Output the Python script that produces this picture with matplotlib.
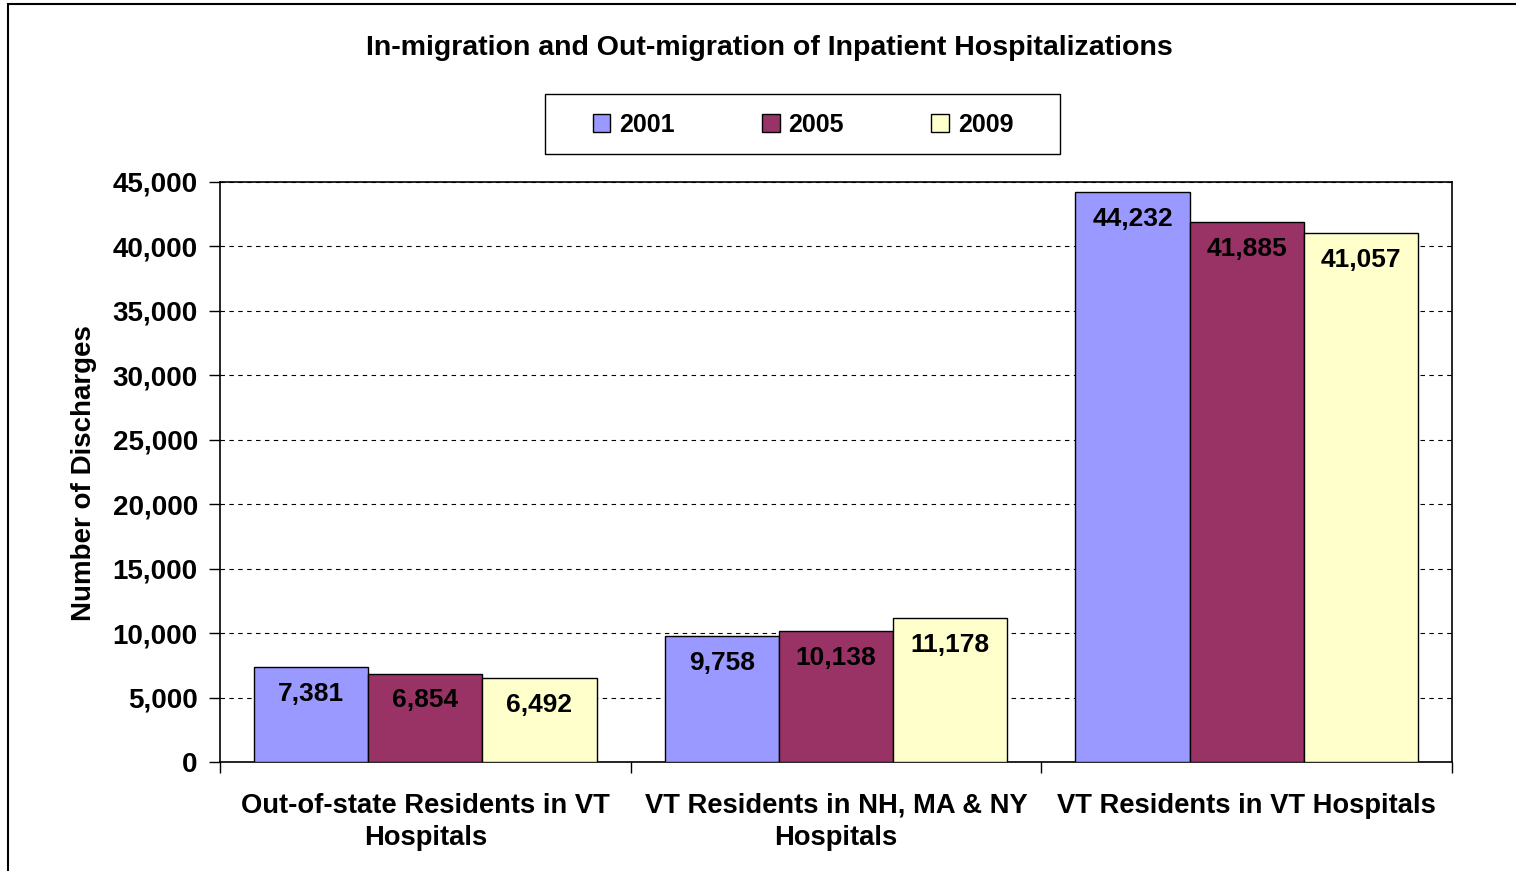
import numpy as np
import matplotlib.pyplot as plt
from matplotlib.patches import Rectangle

# -----------------------------
# Data
# -----------------------------
categories = ["Out-of-state Residents in VT\nHospitals",
              "VT Residents in NH, MA & NY\nHospitals",
              "VT Residents in VT Hospitals"]
years = ["2001", "2005", "2009"]
vals_2001 = [7381, 9758, 44232]
vals_2005 = [6854, 10138, 41885]
vals_2009 = [6492, 11178, 41057]
colors = ["#9999FF", "#993366", "#FFFFCC"]

plt.rcParams["font.family"] = ["Liberation Sans", "DejaVu Sans"]
plt.rcParams["font.weight"] = "bold"

W, H = 1516, 871
fig = plt.figure(figsize=(W / 100, H / 100), dpi=100)
ax = fig.add_axes([220 / W, 1 - 762 / H, 1232 / W, 580 / H])

# outer chart border
fig.patches.append(Rectangle((8 / W, -0.1), 1.2, 1 - 4 / H + 0.1,
                             transform=fig.transFigure, fill=False,
                             edgecolor="black", linewidth=1.5))

x = np.arange(len(categories))
w = 0.278
series = [vals_2001, vals_2005, vals_2009]
for i, (vals, col, yr) in enumerate(zip(series, colors, years)):
    bars = ax.bar(x + (i - 1) * w, vals, w, color=col, edgecolor="black",
                  linewidth=1.0, label=yr, zorder=3)
    for b, v in zip(bars, vals):
        ax.text(b.get_x() + b.get_width() / 2, v - 1150, f"{v:,}",
                ha="center", va="top", fontsize=19, fontweight="bold", zorder=4)

ax.set_xlim(-0.5, 2.5)
ax.set_ylim(0, 45000)
ax.set_yticks(np.arange(0, 45001, 5000))
ax.set_yticklabels([f"{v:,}" for v in range(0, 45001, 5000)], fontsize=20)
ax.yaxis.grid(True, linestyle=(0, (4, 4)), color="black", linewidth=0.8, zorder=0)
ax.tick_params(axis="y", direction="out", length=8, width=1, pad=8)

ax.set_xticks(x)
ax.set_xticklabels(categories, fontsize=19.7, linespacing=1.3)
ax.tick_params(axis="x", length=0, pad=22)
ax.set_xticks([-0.5, 0.5, 1.5, 2.5], minor=True)
ax.tick_params(axis="x", which="minor", direction="out", length=8, width=1)

for s in ax.spines.values():
    s.set_linewidth(1.2)

ax.set_ylabel("Number of Discharges", fontsize=20, fontweight="bold")
ax.yaxis.set_label_coords((97 - 220) / 1232, (762 - 473) / 580)

fig.text(769 / W, 1 - 48 / H, "In-migration and Out-migration of Inpatient Hospitalizations",
         ha="center", va="center", fontsize=20.5, fontweight="bold")

# legend frame drawn by hand, entries centred inside it
fig.patches.append(Rectangle((545 / W, 1 - 154 / H), 515 / W, 60 / H,
                             transform=fig.transFigure, fill=False,
                             edgecolor="black", linewidth=1.0))
leg = fig.legend(loc="center", bbox_to_anchor=(803 / W, 1 - 125 / H), ncol=3,
                 fontsize=18, frameon=False,
                 handlelength=0.7, handleheight=0.7, handletextpad=0.35,
                 columnspacing=3.5)
for t in leg.get_texts():
    t.set_fontweight("bold")

fig.savefig("out.png", dpi=100)
